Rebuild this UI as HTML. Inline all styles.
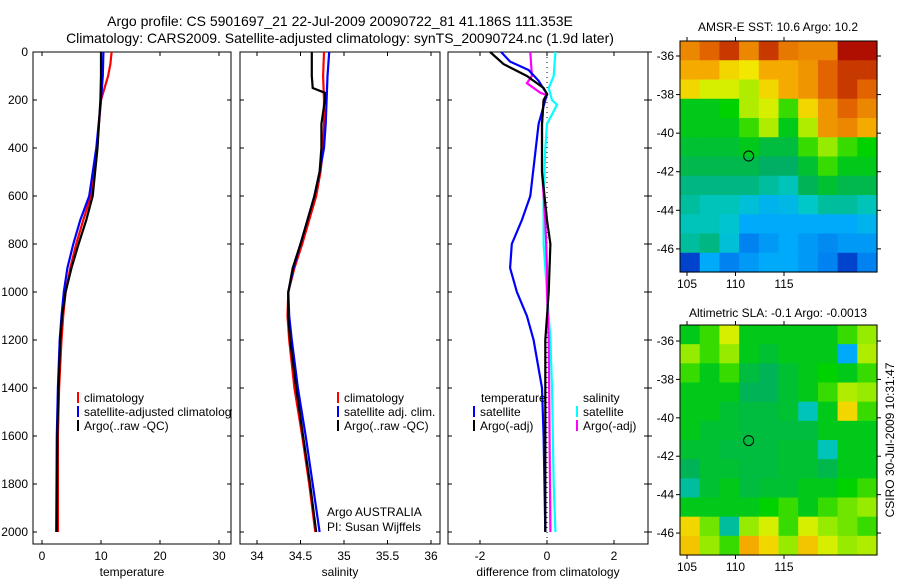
<!DOCTYPE html>
<html><head><meta charset="utf-8">
<style>
html,body{margin:0;padding:0;background:#fff;}
svg{display:block;font-family:"Liberation Sans",sans-serif;}
</style></head>
<body>
<svg id="fig" width="900" height="580" viewBox="0 0 900 580" xmlns="http://www.w3.org/2000/svg">
<rect width="900" height="580" fill="#fff"/>
<text x="340" y="26" font-size="14" text-anchor="middle">Argo profile: CS 5901697_21 22-Jul-2009 20090722_81 41.186S 111.353E</text>
<text x="340" y="43" font-size="14" text-anchor="middle">Climatology: CARS2009. Satellite-adjusted climatology: synTS_20090724.nc (1.9d later)</text>
<text x="778" y="31" font-size="12" text-anchor="middle">AMSR-E SST: 10.6 Argo: 10.2</text>
<text x="778" y="317" font-size="12" text-anchor="middle">Altimetric SLA: -0.1 Argo: -0.0013</text>
<text x="0" y="0" font-size="12" text-anchor="middle" transform="translate(894,440) rotate(-90)">CSIRO 30-Jul-2009 10:31:47</text>
<g id="plots"></g>
</svg>
<script>
// ---- profile data ----
const tempClimDepth=[0,50,100,200,400,600,700,800,900,1000,1100,1200,1400,1600,1800,2000];
const tempClim=[11.8,11.6,11.2,10.0,9.3,8.3,7.0,5.8,4.8,4.0,3.6,3.3,2.9,2.7,2.7,2.7];
const tempSatDepth=[0,100,200,400,600,700,800,900,1000,1100,1200,1400,1600,2000];
const tempSat=[10.4,10.3,10.0,9.2,8.0,6.5,5.3,4.3,3.7,3.3,3.0,2.7,2.5,2.4];
const tempArgoDepth=[0,100,200,400,600,700,800,900,1000,1100,1200,1400,1600,2000];
const tempArgo=[10.0,10.0,9.9,9.4,8.6,7.5,6.2,5.0,4.0,3.4,3.1,2.8,2.6,2.5];

const salClimDepth=[0,100,200,300,400,500,600,700,800,900,1000,1100,1200,1400,1600,1800,2000];
const salClim=[34.77,34.76,34.77,34.77,34.76,34.73,34.68,34.6,34.52,34.43,34.36,34.35,34.37,34.43,34.52,34.6,34.67];
const salSatDepth=[0,100,200,300,400,500,600,700,800,900,1000,1100,1200,1400,1600,1800,2000];
const salSat=[34.83,34.81,34.8,34.79,34.77,34.72,34.66,34.58,34.5,34.42,34.36,34.37,34.4,34.47,34.56,34.64,34.72];
const salArgoDepth=[0,100,150,170,200,300,400,500,600,700,800,900,1000,1100,1200,1400,1600,1800,2000];
const salArgo=[34.63,34.63,34.64,34.78,34.78,34.74,34.74,34.72,34.66,34.58,34.5,34.41,34.36,34.36,34.38,34.45,34.53,34.61,34.68];

const dTSatDepth=[0,40,75,120,175,300,600,700,800,900,1000,1100,1200,1400,1600,2000];
const dTSat=[-1.37,-1.1,-0.55,-0.25,0,-0.25,-0.5,-0.75,-1.05,-1.1,-0.9,-0.6,-0.4,-0.15,-0.1,-0.05];
const dTArgoDepth=[0,50,100,150,175,200,300,500,700,800,1000,1200,2000];
const dTArgo=[-1.7,-1.3,-0.6,-0.1,0,-0.1,-0.15,-0.15,0,0.1,0.05,-0.05,-0.05];
const dSArgoDepth=[0,100,130,170,180,200,300,500,700,900,1000,1200,2000];
const dSArgo=[-0.5,-0.45,-0.6,-0.2,0,-0.1,-0.15,-0.15,-0.05,0,0,0.05,0.1];
const dSSatDepth=[0,100,150,200,220,300,400,600,800,1000,1200,1400,1800,2000];
const dSSat=[0.25,0.2,0.05,0.15,0.3,0.0,-0.05,-0.1,-0.1,0,0.1,0.15,0.2,0.25];

const depthTicks=[0,200,400,600,800,1000,1200,1400,1600,1800,2000];
const tempTicks=[0,10,20,30];
const salTicks=[34,34.5,35,35.5,36];
const salTickLabels=["34","34.5","35","35.5","36"];
const diffTicks=[-2,0,2];

// ---- map data (0..1 colormap index) ----
const sstGrid=[
[.8,.85,.9,.8,.9,.82,.8,.8,.95,.95],
[.75,.75,.7,.68,.75,.75,.78,.85,.9,.9],
[.7,.65,.65,.62,.7,.75,.78,.85,.9,.85],
[.5,.5,.52,.62,.65,.55,.7,.78,.85,.8],
[.5,.5,.5,.55,.62,.5,.62,.78,.8,.75],
[.48,.48,.48,.5,.47,.47,.55,.6,.55,.52],
[.46,.46,.46,.46,.44,.44,.48,.55,.5,.5],
[.42,.42,.42,.42,.4,.38,.45,.48,.46,.46],
[.4,.38,.38,.35,.32,.33,.37,.4,.4,.38],
[.38,.38,.36,.3,.3,.3,.3,.3,.3,.32],
[.4,.42,.35,.25,.28,.3,.28,.26,.28,.28],
[.15,.3,.25,.28,.3,.3,.28,.25,.15,.25]];
const slaGrid=[
[.5,.55,.65,.5,.5,.5,.5,.5,.55,.6],
[.6,.55,.6,.5,.48,.5,.5,.5,.3,.62],
[.55,.5,.55,.47,.45,.48,.5,.52,.5,.55],
[.5,.5,.5,.45,.45,.48,.5,.55,.62,.6],
[.5,.5,.48,.47,.47,.48,.38,.5,.7,.55],
[.5,.48,.48,.47,.47,.47,.47,.5,.5,.5],
[.48,.48,.47,.47,.47,.48,.48,.38,.5,.5],
[.45,.48,.48,.47,.47,.48,.48,.46,.5,.5],
[.4,.48,.5,.47,.48,.48,.5,.5,.52,.55],
[.5,.5,.5,.5,.52,.55,.5,.55,.58,.6],
[.7,.58,.4,.6,.65,.55,.65,.6,.58,.55],
[.72,.6,.55,.75,.7,.6,.72,.65,.6,.62]];
const lonTicks=[105,110,115];
const latTicks=[-36,-38,-40,-42,-44,-46];
const argoLon=111.353, argoLat=-41.186;

const NS="http://www.w3.org/2000/svg";
const root=document.getElementById('plots');
function mk(tag,attrs,parent){const e=document.createElementNS(NS,tag);for(const k in attrs)e.setAttribute(k,attrs[k]);(parent||root).appendChild(e);return e;}

const PTOP=52,PBOT=544;
function yD(d){return 52+d*0.24;}
function lin(d0,d1,p0,p1){return v=>p0+(v-d0)*(p1-p0)/(d1-d0);}

const panels=[
 {x0:33,x1:231,sx:lin(0,10,42,101),name:'temperature',ticks:tempTicks,labels:tempTicks.map(String)},
 {x0:240,x1:440,sx:lin(34,36,257,431),name:'salinity',ticks:salTicks,labels:salTickLabels},
 {x0:448,x1:648,sx:lin(0,2,547,614),name:'difference from climatology',ticks:diffTicks,labels:diffTicks.map(String)}
];

panels.forEach((p,i)=>{
  const g=mk('g',{});
  
  
  const fr=mk('rect',{x:p.x0,y:PTOP,width:p.x1-p.x0,height:PBOT-PTOP,fill:'none',stroke:'#000','stroke-width':1},g);
  
  
  p.ticks.forEach((t,j)=>{
    const x=p.sx(t);
    mk('line',{x1:x,x2:x,y1:PBOT,y2:PBOT-4,stroke:'#000'},g);
    mk('line',{x1:x,x2:x,y1:PTOP,y2:PTOP+4,stroke:'#000'},g);
    const tl=mk('text',{x:x,y:PBOT+16,'font-size':12,'text-anchor':'middle'},g);
    tl.textContent=p.labels[j];
    
    
  });
  const xt=mk('text',{x:(p.x0+p.x1)/2,y:PBOT+32,'font-size':12,'text-anchor':'middle'},g);
  xt.textContent=p.name;
  
  
  depthTicks.forEach(d=>{
    const y=yD(d);
    mk('line',{x1:p.x0,x2:p.x0+4,y1:y,y2:y,stroke:'#000'},g);
    mk('line',{x1:p.x1,x2:p.x1-4,y1:y,y2:y,stroke:'#000'},g);
    if(i===2) mk('line',{x1:p.x1,x2:p.x1+4,y1:y,y2:y,stroke:'#000'},g);
    if(i===0){
      const yl=mk('text',{x:28,y:y+4,'font-size':12,'text-anchor':'end'},g);
      yl.textContent=String(d);
      
      
    }
  });
});

function line(px,depths,vals,color,name){
  const p=panels[px];
  const pts=depths.map((d,k)=>p.sx(vals[k]).toFixed(1)+','+yD(d).toFixed(1)).join(' ');
  const l=mk('polyline',{points:pts,fill:'none',stroke:color,'stroke-width':2.2});
  
  
}
const z=mk('line',{x1:547,x2:547,y1:PTOP,y2:PBOT,stroke:'#000','stroke-dasharray':'1,4'});



line(0,tempClimDepth,tempClim,'#ff0000','temp-climatology-line');
line(0,tempSatDepth,tempSat,'#0000ff','temp-satellite-line');
line(0,tempArgoDepth,tempArgo,'#000000','temp-argo-line');
line(1,salClimDepth,salClim,'#ff0000','sal-climatology-line');
line(1,salSatDepth,salSat,'#0000ff','sal-satellite-line');
line(1,salArgoDepth,salArgo,'#000000','sal-argo-line');
line(2,dSSatDepth,dSSat,'#00ffff','dsal-satellite-line');
line(2,dSArgoDepth,dSArgo,'#ff00ff','dsal-argo-line');
line(2,dTSatDepth,dTSat,'#0000ff','dtemp-satellite-line');
line(2,dTArgoDepth,dTArgo,'#000000','dtemp-argo-line');

function legend(x,y,color,text,name){
  if(color){const b=mk('line',{x1:x,x2:x,y1:y-10,y2:y+1,stroke:color,'stroke-width':2});
    
    }
  const t=mk('text',{x:x+6,y:y,'font-size':12});
  t.textContent=text;
  
  
}
legend(78,402,'#ff0000','climatology','legend-climatology');
legend(78,416,'#0000ff','satellite-adjusted climatology','legend-satellite');
legend(78,430,'#000000','Argo(..raw -QC)','legend-argo');
legend(338,402,'#ff0000','climatology','legend-sal-climatology');
legend(338,416,'#0000ff','satellite adj. clim.','legend-sal-satellite');
legend(338,430,'#000000','Argo(..raw -QC)','legend-sal-argo');
legend(321,516,null,'Argo AUSTRALIA','credit-line-1');
legend(321,531,null,'PI: Susan Wijffels','credit-line-2');
legend(475,402,null,'temperature','legend-temp-header');
legend(474,416,'#0000ff','satellite','legend-dtemp-satellite');
legend(474,430,'#000000','Argo(-adj)','legend-dtemp-argo');
legend(577,402,null,'salinity','legend-sal-header');
legend(577,416,'#00ffff','satellite','legend-dsal-satellite');
legend(577,430,'#ff00ff','Argo(-adj)','legend-dsal-argo');

const cov=mk('rect',{x:232,y:405,width:7.5,height:14,fill:'#fff'});



const cmapStops=[[0,0,0,130],[0.2,0,90,230],[0.3,0,170,250],[0.37,0,200,200],[0.44,0,175,100],[0.52,0,210,0],[0.6,150,235,0],[0.67,240,240,0],[0.75,245,170,0],[0.85,225,100,0],[0.95,175,15,0],[1,150,0,0]];
function cmap(v){
  v=Math.max(0,Math.min(1,v));
  for(let i=1;i<cmapStops.length;i++){
    const a=cmapStops[i-1],b=cmapStops[i];
    if(v<=b[0]){const t=(v-a[0])/(b[0]-a[0]);
      return `rgb(${Math.round(a[1]+t*(b[1]-a[1]))},${Math.round(a[2]+t*(b[2]-a[2]))},${Math.round(a[3]+t*(b[3]-a[3]))})`;}
  }
  return 'rgb(150,0,0)';
}
function map(grid,y0,y1,name,latTop){
  const x0=680,x1=877;
  const g=mk('g',{});
  
  
  const rows=grid.length,cols=grid[0].length;
  const cw=(x1-x0)/cols,ch=(y1-y0)/rows;
  grid.forEach((row,r)=>row.forEach((v,c)=>{
    const cell=mk('rect',{x:(x0+c*cw).toFixed(2),y:(y0+r*ch).toFixed(2),width:(cw+0.6).toFixed(2),height:(ch+0.6).toFixed(2),fill:cmap(v)},g);
    
    
  }));
  const sxm=lin(105,115,687,784);
  const sym=lin(-36,-46,latTop,latTop+(y1-y0)*0.835);
  mk('rect',{x:x0,y:y0,width:x1-x0,height:y1-y0,fill:'none',stroke:'#000'},g);
  lonTicks.forEach(l=>{
    const x=sxm(l);
    mk('line',{x1:x,x2:x,y1:y1,y2:y1+4,stroke:'#000'},g);
    mk('line',{x1:x,x2:x,y1:y0,y2:y0-4,stroke:'#000'},g);
    const t=mk('text',{x:x,y:y1+16,'font-size':12,'text-anchor':'middle'},g);
    t.textContent=String(l);
    
    
  });
  latTicks.forEach(l=>{
    const y=sym(l);
    mk('line',{x1:x0-4,x2:x0,y1:y,y2:y,stroke:'#000'},g);
    mk('line',{x1:x1,x2:x1+4,y1:y,y2:y,stroke:'#000'},g);
    const t=mk('text',{x:x0-6,y:y+4,'font-size':12,'text-anchor':'end'},g);
    t.textContent=String(l);
    
    
  });
  const c=mk('circle',{cx:sxm(argoLon),cy:sym(argoLat),r:5,fill:'none',stroke:'#000','stroke-width':1},g);
  
  
}
map(sstGrid,41,272,'sst-map',56);
map(slaGrid,325,555,'sla-map',341);
</script>
</body></html>
